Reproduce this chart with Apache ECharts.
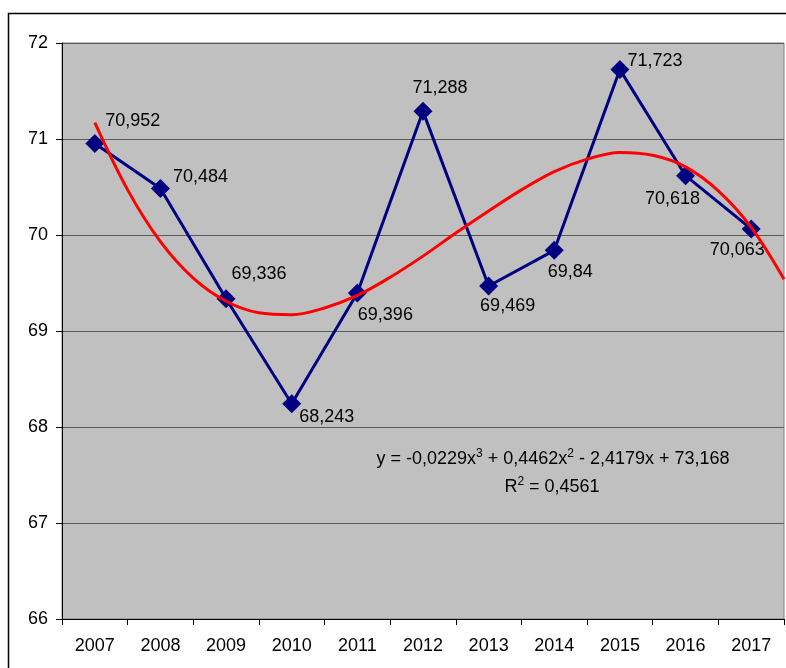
<!DOCTYPE html>
<html>
<head>
<meta charset="utf-8">
<script src="https://cdn.jsdelivr.net/npm/echarts@6/dist/echarts.min.js"></script>
<style>
  html, body { margin: 0; padding: 0; background: #fff; }
  #chart { width: 786px; height: 668px; }
</style>
</head>
<body>
<div id="chart"></div>
<script>
// data
const years = ['2007', '2008', '2009', '2010', '2011', '2012', '2013', '2014', '2015', '2016', '2017'];
const values = [70.952, 70.484, 69.336, 68.243, 69.396, 71.288, 69.469, 69.84, 71.723, 70.618, 70.063];
// label offsets from the marker centre (x, y)
const labelOffsets = [[38, -23], [40, -12], [33, -25], [35, 13], [28, 22], [17, -23], [19, 20], [16, 22], [35, -9], [-13, 23], [-14, 21]];

// red trend line, sampled every half year (1 = 2007)
const trendX = [1, 1.5, 2, 2.5, 3, 3.5, 4, 4.5, 5, 5.5, 6, 6.5, 7, 7.5, 8, 8.5, 9, 9.5, 10, 10.5, 11, 11.5];
const trendY = [71.17, 70.47, 69.93, 69.55, 69.31, 69.19, 69.17, 69.24, 69.37, 69.56, 69.78, 70.02,
                70.25, 70.47, 70.66, 70.79, 70.86, 70.83, 70.71, 70.46, 70.08, 69.54];

// trend equation, {s|..} = superscript
const eqLine1 = 'y = -0,0229x{s|3} + 0,4462x{s|2} - 2,4179x + 73,168';
const eqLine2 = 'R{s|2} = 0,4561';

const FONT = '"Liberation Sans", Arial, sans-serif';

const chart = echarts.init(document.getElementById('chart'));

const eqStyle = (text) => ({
    text: text,
    fill: '#000',
    fontSize: 18,
    fontFamily: FONT,
    lineHeight: 22,
    align: 'center',
    verticalAlign: 'middle',
    rich: {
        s: { fontSize: 12, fontFamily: FONT, lineHeight: 12, verticalAlign: 'top', fill: '#000' },
    },
});

const option = {
    backgroundColor: '#fff',
    animation: false,
    textStyle: { fontFamily: FONT },
    grid: {
        left: 62,
        right: 2,
        top: 43,
        bottom: 49,
        show: true,
        backgroundColor: '#c0c0c0',
        borderColor: '#808080',
        borderWidth: 1,
    },
    xAxis: [
        {
            type: 'category',
            data: years,
            boundaryGap: true,
            axisLine: { lineStyle: { color: '#000', width: 1 } },
            axisTick: { show: true, length: 6, lineStyle: { color: '#000' } },
            axisLabel: { color: '#000', fontSize: 18, fontFamily: FONT, margin: 18 },
        },
        {
            type: 'value',
            min: 0.5,
            max: 11.5,
            show: false,
        },
    ],
    yAxis: {
        type: 'value',
        min: 66,
        max: 72,
        interval: 1,
        axisLine: { show: true, lineStyle: { color: '#000', width: 1 } },
        axisTick: { show: true, length: 6, lineStyle: { color: '#000' } },
        axisLabel: { color: '#000', fontSize: 18, fontFamily: FONT, margin: 14 },
        splitLine: { show: true, lineStyle: { color: '#5a5a5a', width: 1 } },
    },
    series: [
        {
            type: 'line',
            xAxisIndex: 0,
            data: values.map((v, i) => ({
                value: v,
                label: { offset: labelOffsets[i] },
            })),
            symbol: 'diamond',
            symbolSize: 19,
            lineStyle: { color: '#000080', width: 3 },
            itemStyle: { color: '#000080' },
            label: {
                show: true,
                position: 'inside',
                align: 'center',
                verticalAlign: 'middle',
                color: '#000',
                fontSize: 18,
                fontFamily: FONT,
                formatter: (p) => String(p.value).replace('.', ','),
            },
            z: 3,
        },
        {
            type: 'line',
            xAxisIndex: 1,
            data: trendX.map((x, i) => [x, trendY[i]]),
            smooth: 0.35,
            showSymbol: false,
            symbol: 'none',
            lineStyle: { color: '#ff0000', width: 3 },
            z: 4,
        },
    ],
    graphic: [
        {
            type: 'rect',
            shape: { x: 8.5, y: 13.5, width: 900, height: 900 },
            style: { fill: 'none', stroke: '#000', lineWidth: 1.5 },
            silent: true,
            z: -10,
        },
        {
            type: 'text',
            x: 553,
            y: 459,
            style: eqStyle(eqLine1),
            z: 10,
        },
        {
            type: 'text',
            x: 552,
            y: 487,
            style: eqStyle(eqLine2),
            z: 10,
        },
    ],
};

chart.setOption(option);
</script>
</body>
</html>
